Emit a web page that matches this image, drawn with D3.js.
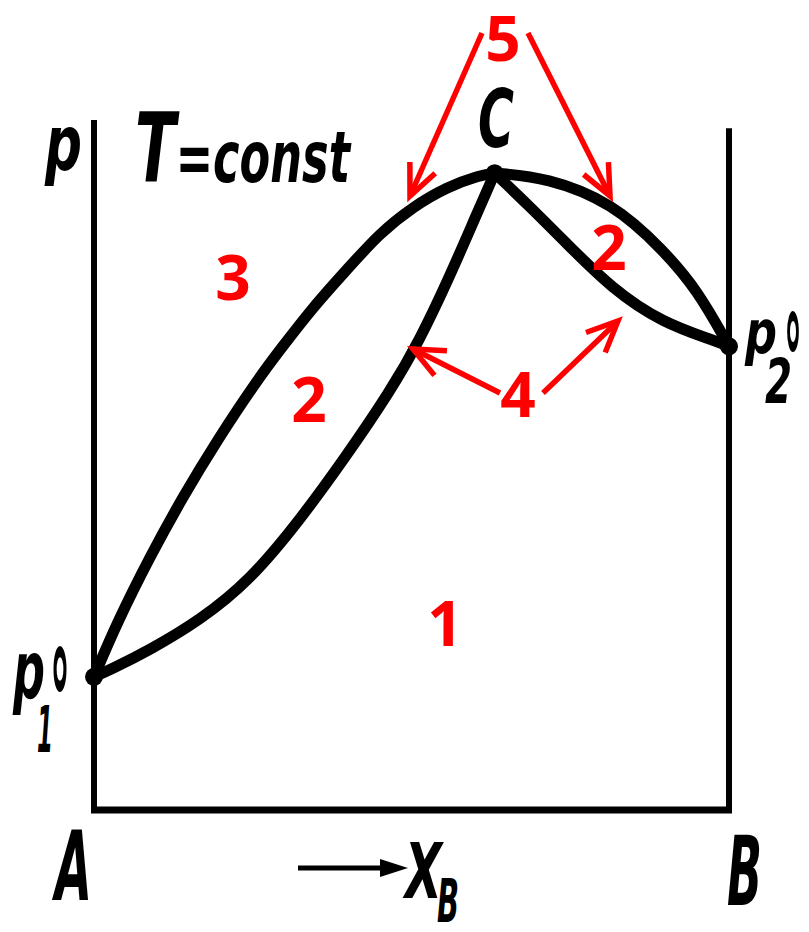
<!DOCTYPE html>
<html>
<head>
<meta charset="utf-8">
<script src="https://cdn.jsdelivr.net/npm/d3@7"></script>
<style>
  html, body { margin: 0; padding: 0; background: #fff; }
  svg { display: block; }
</style>
</head>
<body>
<svg id="chart" width="809" height="932"></svg>
<script>
// Pressure–composition diagram at constant temperature, binary A–B with azeotrope C.
// Each curve is a list of [x_B, p] points (p in arbitrary units, 0..100).
const upperLeft  = [[0,19.3],[0.036,27.1],[0.088,36.7],[0.140,45.4],[0.194,53.6],[0.257,62.3],
                    [0.293,66.7],[0.345,72.9],[0.398,78.3],[0.450,83.6],[0.502,87.4],[0.556,90.3],
                    [0.608,92.0],[0.631,92.3]];
const lowerLeft  = [[0,19.3],[0.025,20.3],[0.088,23.2],[0.167,27.5],[0.246,33.3],[0.324,42.0],
                    [0.395,51.0],[0.466,60.6],[0.513,68.1],[0.561,77.5],[0.600,85.8],[0.631,92.3]];
const upperRight = [[0.631,92.3],[0.713,91.7],[0.817,88.0],[0.896,81.2],[0.950,75.4],[1,67.2]];
const lowerRight = [[0.631,92.3],[0.687,87.4],[0.739,82.6],[0.817,75.4],[0.896,70.6],[0.975,68.1],[1,67.2]];
const keyPoints  = [[0,19.3],[0.631,92.3],[1,67.2]];   // p1°, C, p2°
const axisTops   = [100, 98.8];                         // heights of the A and B ordinates

const svg = d3.select("#chart");
const x = d3.scaleLinear().domain([0, 1]).range([94, 729]);
const y = d3.scaleLinear().domain([0, 100]).range([810, 120]);

// frame: two ordinates and the composition axis
svg.append("line").attr("x1", x(0)).attr("x2", x(0)).attr("y1", y(axisTops[0])).attr("y2", y(0))
  .attr("stroke", "#000").attr("stroke-width", 6);
svg.append("line").attr("x1", x(1)).attr("x2", x(1)).attr("y1", y(axisTops[1])).attr("y2", y(0))
  .attr("stroke", "#000").attr("stroke-width", 6);
svg.append("line").attr("x1", x(0) - 3).attr("x2", x(1) + 3).attr("y1", y(0)).attr("y2", y(0))
  .attr("stroke", "#000").attr("stroke-width", 7);

// phase boundaries (smoothed B-spline through the read points)
const line = d3.line().x(d => x(d[0])).y(d => y(d[1])).curve(d3.curveBasis);
[upperLeft, lowerLeft, upperRight, lowerRight].forEach(c => {
  svg.append("path").attr("d", line(c)).attr("fill", "none")
    .attr("stroke", "#000").attr("stroke-width", 11).attr("stroke-linecap", "round");
});
svg.selectAll("circle.key").data(keyPoints).join("circle").attr("class", "key")
  .attr("cx", d => x(d[0])).attr("cy", d => y(d[1])).attr("r", 9).attr("fill", "#000");

// black italic labels
const black = (t, px, py, size, len) => svg.append("text").attr("x", px).attr("y", py)
  .attr("font-family", "'DejaVu Sans', sans-serif").attr("font-weight", "bold")
  .attr("font-style", "italic").attr("font-size", size)
  .attr("textLength", len).attr("lengthAdjust", "spacingAndGlyphs").attr("fill", "#000").text(t);

black("p", 45, 170, 76, 37);
const tc = svg.append("text").attr("x", 135).attr("y", 182)
  .attr("font-family", "'DejaVu Sans', sans-serif").attr("font-weight", "bold")
  .attr("font-style", "italic").attr("textLength", 215).attr("lengthAdjust", "spacingAndGlyphs");
tc.append("tspan").attr("font-size", 96).text("T");
tc.append("tspan").attr("font-size", 72).text("=const");

black("C", 478, 147, 80, 36);
black("p", 13, 698, 80, 32);
black("°", 50, 752, 140, 20);
black("1", 37, 752, 64, 16);
black("p", 745, 353, 60, 32);
black("°", 784, 405, 125, 18);
black("2", 765, 403, 62, 27);
black("A", 55, 900, 96, 37);
black("B", 727, 905, 96, 35);
black("X", 405, 898, 76, 37);
black("B", 437, 922, 60, 22);

// direction arrow under the composition axis
svg.append("line").attr("x1", 298).attr("x2", 385).attr("y1", 868).attr("y2", 868)
  .attr("stroke", "#000").attr("stroke-width", 5);
svg.append("path").attr("d", "M380,859 L408,868 L380,877 Z").attr("fill", "#000");

// red region numbers
const regionLabels = [["5", 503, 61], ["3", 233, 300], ["2", 309, 422], ["2", 609, 270], ["4", 518, 417], ["1", 445, 646]];
svg.selectAll("text.region").data(regionLabels).join("text").attr("class", "region")
  .attr("x", d => d[1]).attr("y", d => d[2]).attr("text-anchor", "middle")
  .attr("font-family", "'Open Sans', sans-serif").attr("font-weight", "bold")
  .attr("font-size", 62).attr("fill", "#ff0000").text(d => d[0]);

// red pointer arrows with open heads
const pointers = [[[482, 33], [410, 196]], [[528, 33], [610, 196]], [[500, 393], [413, 349]], [[543, 393], [618, 321]]];
pointers.forEach(([s, e]) => {
  svg.append("line").attr("x1", s[0]).attr("y1", s[1]).attr("x2", e[0]).attr("y2", e[1])
    .attr("stroke", "#ff0000").attr("stroke-width", 5.5);
  const ang = Math.atan2(e[1] - s[1], e[0] - s[0]);
  const L = 34, spread = 0.42;
  const a1 = [e[0] - L * Math.cos(ang - spread), e[1] - L * Math.sin(ang - spread)];
  const a2 = [e[0] - L * Math.cos(ang + spread), e[1] - L * Math.sin(ang + spread)];
  svg.append("path").attr("d", `M${a1} L${e} L${a2}`).attr("fill", "none")
    .attr("stroke", "#ff0000").attr("stroke-width", 5.5).attr("stroke-linejoin", "miter");
});
</script>
</body>
</html>
